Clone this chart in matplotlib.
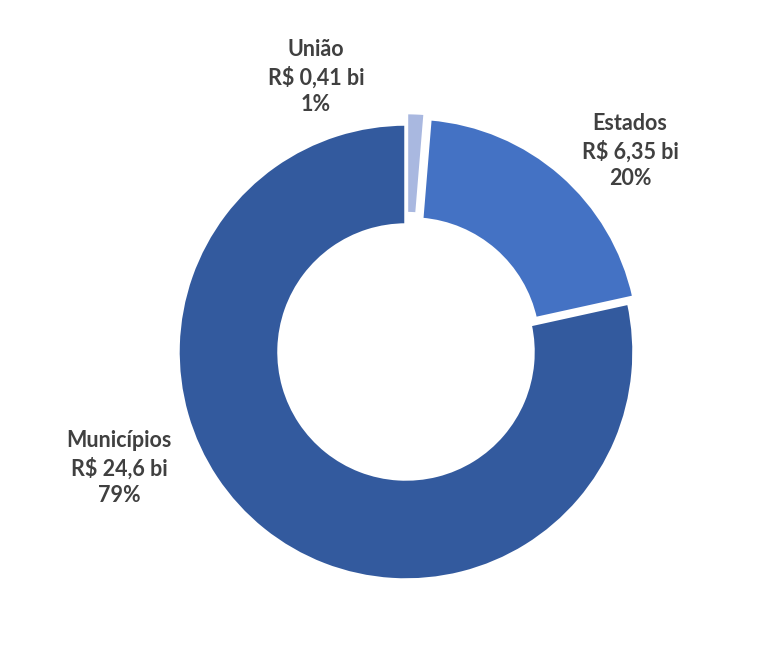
import matplotlib.pyplot as plt

labels = ["União", "Estados", "Municípios"]
values = [0.41, 6.35, 24.6]
value_text = ["R$ 0,41 bi", "R$ 6,35 bi", "R$ 24,6 bi"]
pct_text = ["1%", "20%", "79%"]
colors = ["#A9B8E0", "#4472C4", "#335A9E"]
explode = [0.05, 0.035, 0.0]

plt.rcParams["font.family"] = ["Lato", "DejaVu Sans"]

fig = plt.figure(figsize=(7.75, 6.64), dpi=100)
ax = fig.add_axes([0, 0, 1, 1])

ax.pie(values, colors=colors, startangle=90, counterclock=False,
       explode=explode, radius=1.0,
       wedgeprops=dict(width=0.443, edgecolor="white", linewidth=2.5))

# label positions (data units, radius 1 = outer ring)
label_pos = [(-0.395, 1.206), (0.982, 0.882), (-1.259, -0.509)]
for name, val, pct, (x, y) in zip(labels, value_text, pct_text, label_pos):
    ax.text(x, y, f"{name}\n{val}\n{pct}", ha="center", va="center",
            fontsize=15.5, fontweight="bold", color="#404040", linespacing=1.33)

ax.set_xlim(-406 / 228, (775 - 406) / 228)
ax.set_ylim(-(664 - 352) / 228, 352 / 228)
ax.set_aspect("equal")
ax.axis("off")

fig.savefig("out.png", dpi=100, facecolor="white")
